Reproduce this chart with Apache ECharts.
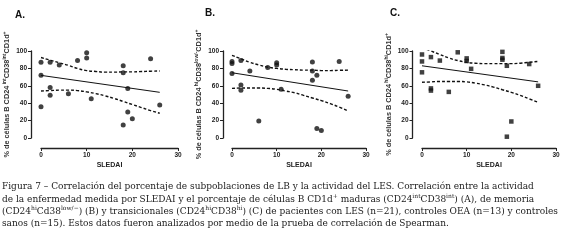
<!DOCTYPE html>
<html>
<head>
<meta charset="utf-8">
<script src="https://cdn.jsdelivr.net/npm/echarts@6/dist/echarts.min.js"></script>
<style>
  html, body { margin: 0; padding: 0; background: #fff; }
  #chart { width: 565px; height: 241px; }
</style>
</head>
<body>
<div id="chart"></div>
<script>
// SLEDAI (x) de cada paciente, igual en los tres paneles
const sledai = [0, 0, 0, 2, 2, 2, 4, 6, 8, 10, 10, 11, 18, 18, 18, 19, 19, 20, 24, 26];

// % de células por panel
const pctA = [87, 72, 36, 87, 58, 49, 84, 51, 89, 98, 92, 45, 83, 75, 15, 57, 30, 22, 91, 38];
const pctB = [88, 85.5, 74, 89, 61, 55, 77, 19.5, 81, 86.5, 84, 56, 87.5, 77, 66.5, 72, 11, 8.5, 88, 48];
const pctC = [96, 88, 75.5, 93, 57, 54.5, 89, 53, 98.5, 91.5, 88.5, 79.5, 99, 92, 90, 83, 1.5, 19, 85, 60];

// recta de regresión (extremos)
const fitX = [0, 26];
const fitA = [72, 52.5];
const fitB = [75, 54];
const fitC = [83, 64.5];

// bandas de confianza 95%
const bandX = [0, 2, 4, 6, 8, 10, 12, 14, 16, 18, 20, 22, 24, 26];
const upA = [92.5, 89.5, 86.5, 83.5, 80, 77.5, 76.5, 75.7, 75.7, 76, 76, 76.4, 76.8, 77];
const loA = [54, 54.5, 55, 55, 54.5, 53, 51, 48.5, 45.5, 42, 38.5, 35, 31.5, 28.5];
const upB = [95, 91, 87, 84, 81.5, 80, 79, 78.5, 78, 78, 77.5, 77.5, 77.8, 78];
const loB = [57, 57.5, 57.5, 57.5, 57, 56, 54, 52, 49, 46, 43, 39.5, 35.5, 31];
const upC = [104, 100, 96, 92, 89, 87, 86, 85.5, 85.5, 85.5, 85.5, 86, 87, 88];
const loC = [64, 64.5, 65, 65, 65, 64.5, 63, 61, 58.5, 55.5, 52.5, 49, 45, 41];

const xTicks = [0, 10, 20, 30];
const yTicks = [0, 20, 40, 60, 80, 100];

const yNames = [
  "% de células B CD24{sup| int}CD38{sup|int}CD1d{sup|+}",
  "% de células B CD24{sup| hi}CD38{sup|low/-}CD1d{sup|+}",
  "% de células B CD24{sup| hi}CD38{sup|hi}CD1d{sup|+}",
];
const panelLabels = ["A.", "B.", "C."];

const captionLines = [
  "Figura 7 – Correlación del porcentaje de subpoblaciones de LB y la actividad del LES. Correlación entre la actividad",
  "de la enfermedad medida por SLEDAI y el porcentaje de células B CD1d{s|+} maduras (CD24{s|int}CD38{s|int}) (A), de memoria",
  "(CD24{s|hi}Cd38{s|low/−}) (B) y transicionales (CD24{s|hi}CD38{s|hi}) (C) de pacientes con LES (n=21), controles OEA (n=13) y controles",
  "sanos (n=15). Estos datos fueron analizados por medio de la prueba de correlación de Spearman.",
];

const pairs = (xs, ys) => xs.map((x, i) => [x, ys[i]]);

const chart = echarts.init(document.getElementById("chart"));

const grids = [
  { left: 41, width: 137, top: 51, height: 87 },
  { left: 232, width: 134, top: 51, height: 87 },
  { left: 422, width: 134, top: 51, height: 87 },
];
const yOffsets = [10, 9, 9.5];

const axisFont = "Liberation Sans";

const xAxes = grids.map((g, i) => ({
  gridIndex: i,
  type: "value",
  min: xTicks[0],
  max: xTicks[xTicks.length - 1],
  interval: 10,
  offset: 10,
  name: "SLEDAI",
  nameLocation: "middle",
  nameGap: 14,
  nameTextStyle: { fontFamily: axisFont, fontWeight: "bold", fontSize: 7, color: "#222" },
  axisLine: { onZero: false, lineStyle: { color: "#222", width: 1.3 } },
  axisTick: { length: 3, lineStyle: { color: "#222", width: 1 } },
  axisLabel: { fontFamily: axisFont, fontWeight: "bold", fontSize: 6.5, color: "#222", margin: 4 },
  splitLine: { show: false },
}));

const yAxes = grids.map((g, i) => ({
  gridIndex: i,
  type: "value",
  min: yTicks[0],
  max: yTicks[yTicks.length - 1],
  interval: 20,
  offset: yOffsets[i],
  name: yNames[i],
  nameLocation: "middle",
  nameGap: 16,
  nameTextStyle: {
    fontFamily: axisFont,
    fontWeight: "bold",
    fontSize: 7.3,
    color: "#333",
    lineHeight: 10,
    rich: {
      sup: { fontFamily: axisFont, fontWeight: "bold", fontSize: 5, color: "#333", verticalAlign: "top", lineHeight: 10 },
    },
  },
  axisLine: { show: true, onZero: false, lineStyle: { color: "#222", width: 1.3 } },
  axisTick: { length: 3, lineStyle: { color: "#222", width: 1 } },
  axisLabel: { fontFamily: axisFont, fontWeight: "bold", fontSize: 6.5, color: "#222", margin: 4 },
  splitLine: { show: false },
}));

const panels = [
  { y: pctA, fit: fitA, up: upA, lo: loA, symbol: "circle", size: 5 },
  { y: pctB, fit: fitB, up: upB, lo: loB, symbol: "circle", size: 5 },
  { y: pctC, fit: fitC, up: upC, lo: loC, symbol: "rect", size: 4.5 },
];

const series = [];
panels.forEach((p, i) => {
  series.push({
    type: "scatter",
    xAxisIndex: i,
    yAxisIndex: i,
    symbol: p.symbol,
    symbolSize: p.size,
    clip: false,
    itemStyle: { color: "#111" },
    data: pairs(sledai, p.y),
  });
  series.push({
    type: "line",
    xAxisIndex: i,
    yAxisIndex: i,
    showSymbol: false,
    lineStyle: { color: "#111", width: 1 },
    data: pairs(fitX, p.fit),
  });
  [p.up, p.lo].forEach((band) => {
    series.push({
      type: "line",
      xAxisIndex: i,
      yAxisIndex: i,
      showSymbol: false,
      smooth: true,
      clip: true,
      lineStyle: { color: "#111", width: 1.4, type: [3, 2] },
      data: pairs(bandX, band),
    });
  });
});

const serif = "DejaVu Serif";
const captionRich = {
  s: { fontFamily: serif, fontSize: 6, color: "#1a1a1a", verticalAlign: "top", lineHeight: 12 },
};

const graphic = [];
const labelPos = [[15, 10], [205, 8], [390, 8]];
panelLabels.forEach((t, i) => {
  graphic.push({
    type: "text",
    left: labelPos[i][0],
    top: labelPos[i][1],
    style: { text: t, fontFamily: axisFont, fontWeight: "bold", fontSize: 10, fill: "#111" },
  });
});
captionLines.forEach((line, i) => {
  graphic.push({
    type: "text",
    left: 2,
    top: 181 + i * 12.3,
    style: {
      text: line,
      fontFamily: serif,
      fontSize: 9,
      fill: "#1a1a1a",
      lineHeight: 12,
      rich: captionRich,
    },
  });
});

const option = {
  backgroundColor: "#fff",
  animation: false,
  grid: grids,
  xAxis: xAxes,
  yAxis: yAxes,
  series: series,
  graphic: graphic,
};

chart.setOption(option);
</script>
</body>
</html>
